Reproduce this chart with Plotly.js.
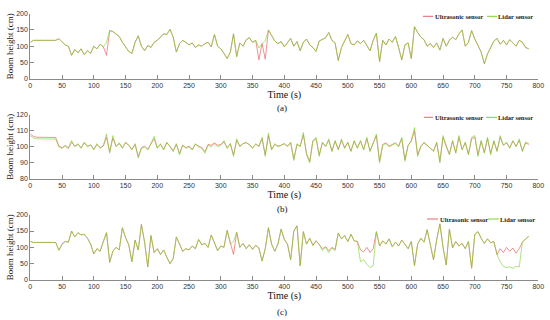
<!DOCTYPE html>
<html><head><meta charset="utf-8">
<script src="https://cdn.plot.ly/plotly-3.0.1.min.js"></script>
<style>html,body{margin:0;padding:0;background:#fff}#chart{width:550px;height:320px}</style>
</head><body><div id="chart"></div>
<script>
const timeS = [
0,5,10,15,20,25,30,35,40,45,50,55,60,65,70,75,80,85,90,95,
100,105,110,115,120,125,130,135,140,145,150,155,160,165,170,175,180,185,190,195,
200,205,210,215,220,225,230,235,240,245,250,255,260,265,270,275,280,285,290,295,
300,305,310,315,320,325,330,335,340,345,350,355,360,365,370,375,380,385,390,395,
400,405,410,415,420,425,430,435,440,445,450,455,460,465,470,475,480,485,490,495,
500,505,510,515,520,525,530,535,540,545,550,555,560,565,570,575,580,585,590,595,
600,605,610,615,620,625,630,635,640,645,650,655,660,665,670,675,680,685,690,695,
700,705,710,715,720,725,730,735,740,745,750,755,760,765,770,775,780,785];

const seriesNames = ['Ultrasonic sensor', 'Lidar sensor'];
const panelLabels = ['(a)', '(b)', '(c)'];
const xTitle = 'Time (s)';
const yTitle = 'Boom height (cm)';
const xTickVals = [0,50,100,150,200,250,300,350,400,450,500,550,600,650,700,750,800];
const yTickValsA = [0,50,100,150,200];
const yTickValsB = [80,90,100,110,120];
const yTickValsC = [0,50,100,150,200];

// Panel (a)
const ultraA = [
112,118,118,118,118,118,118,118,118,123,112,104,100,72,90,80,92,74,86,78,
100,92,106,98,72,148,145,138,130,112,96,84,78,112,132,100,86,102,96,112,
118,128,138,136,152,128,82,108,118,112,104,110,96,104,100,108,112,98,136,100,
92,78,62,82,138,68,110,100,120,126,112,118,58,108,60,150,132,116,108,114,
98,112,124,100,114,86,112,122,104,96,84,116,122,126,142,118,110,56,96,118,
136,108,104,116,108,118,104,86,118,140,52,118,104,122,112,130,96,58,104,110,
62,160,142,128,120,100,108,96,110,88,124,100,118,128,120,138,150,100,112,148,
122,104,82,46,76,96,116,124,106,118,104,120,110,100,118,112,96,92];
const lidarA = [
112,118,118,118,118,118,118,118,118,123,112,104,100,72,90,80,92,74,86,78,
100,92,106,98,112,148,145,138,130,112,96,84,78,112,132,100,86,102,96,112,
118,128,138,136,152,128,82,108,118,112,104,110,96,104,100,108,112,98,136,100,
92,78,62,82,138,68,110,100,120,126,112,118,94,108,116,150,132,116,108,114,
98,112,124,100,114,86,112,122,104,96,84,116,122,126,142,118,110,56,96,118,
136,108,104,116,108,118,104,86,118,140,52,118,104,122,112,130,96,58,104,110,
62,160,142,128,120,100,108,96,110,88,124,100,118,128,120,138,150,100,112,148,
122,104,82,46,76,96,116,124,106,118,104,120,110,100,118,112,96,92];

// Panel (b)
const ultraB = [
108,106.5,106,106,106,106,106,106,105.8,100.5,99.5,100.5,99,103,100.5,101.5,99.5,102.5,100.5,101,
98.5,101.5,99.5,100.5,106,97,105.5,100.5,102,99.5,102.5,101,98.5,101.5,94,99.5,100.5,98.5,101.5,105,
99.5,101.5,98.5,102.5,100.5,97.5,101.5,96,101,99.5,100.5,98.5,101.5,100.5,99.5,97,101.5,101,102.5,101,
101.5,103,99.5,102,95,104,100.5,102,102.5,101.5,99.5,101.5,100.5,105,95,107,98.5,101.5,100.5,101,
102,100.5,102.5,92.5,101.5,100.5,107.5,96,91,103.5,105,95,102.5,100.5,104,97.5,103.5,98.5,104,99.5,
102.5,97.5,103.5,99.5,103.5,98.5,105,97.5,102.5,107,91,101.5,102.5,100.5,101.5,102.5,100.5,105,92,101,
103.5,110,95,100.5,102.5,101,99.5,97.5,102.5,91,106,100.5,95.5,103.5,96.5,106,98.5,102.5,95.5,105,
106,95,103.5,96.5,105,96,103.5,97.5,106,101,102.5,99.5,103.5,100.5,104,97.5,102.5,101.5];
const lidarB = [
107,105.5,105,105,105,105,105,105,104.8,100,99,101,99.5,104,100,102,99,103,100,101.5,
98,102,99,101,108,96,107,100,102.5,99,103,101,98,102,93,99,100,98,102,106.5,
99,102,98,103,100,97,102,95,101,99,100,98,102,100,99,96,101,100,102,100,
101,104,99,102,94,105,100,102,103,101,99,102,100,106,94,108.5,98,102,100,101,
102,100,103,91.5,102,100,109,95,90,104,106,94,103,100,105,97,104,98,105,99,
103,97,104,99,104,98,106,97,103,108,90,101,102,100,101,102,100,106,91,101,
104,112,94,100,103,101,99,97,103,90,107,100,95,104,96,107,98,103,95,106,
107,94,104,96,106,95,104,97,107,101,103,99,104,100,105,97,103,102];

// Panel (c)
const ultraC = [
118,115,115,115,115,115,115,115,115,91,110,118,116,150,132,145,138,140,128,110,
80,96,88,118,145,54,88,100,92,160,130,108,56,122,92,170,116,40,136,84,
96,78,92,70,50,66,132,110,88,96,92,104,96,124,108,112,100,138,112,90,
104,100,152,110,78,146,100,112,96,108,94,106,98,58,96,160,110,88,110,156,
124,110,62,150,166,44,148,110,128,106,120,108,96,102,90,100,94,144,126,136,
118,140,120,118,92,86,100,84,96,148,104,120,110,126,102,116,104,122,110,96,
118,44,110,128,116,154,108,62,124,172,100,46,156,98,118,104,112,96,118,36,
140,148,128,112,126,114,118,78,96,84,100,88,98,82,96,116,126,134];
const lidarC = [
118,115,115,115,115,115,115,115,115,91,110,118,116,150,132,145,138,140,128,110,
80,96,88,118,145,54,88,100,92,160,130,108,56,122,92,170,116,40,136,84,
96,78,92,70,50,66,132,110,88,96,92,104,96,124,108,112,100,138,112,90,
104,100,152,110,118,146,100,112,96,108,94,106,98,58,96,160,110,88,110,156,
124,110,62,150,166,44,148,110,128,106,120,110,90,100,84,98,90,144,126,136,
118,140,120,118,56,62,48,38,44,148,104,120,110,126,102,116,104,122,110,96,
118,44,110,128,116,154,108,62,124,172,100,46,156,98,118,104,112,96,118,36,
140,148,128,112,126,114,118,78,56,42,38,40,36,42,40,116,126,134];

// ---------- styling / geometry ----------
const W = 550, H = 320;
const px = x => x / W;
const py = y => 1 - y / H;
const serif = 'Liberation Serif, Times New Roman, serif';
const sans = 'Liberation Sans, Arial, sans-serif';
const ultraColor = 'rgb(232,100,100)';
const lidarColor = 'rgb(120,212,45)';
const axisColor = '#8a8a8a';

const panels = [
  {u: ultraA, l: lidarA, yr: [0,200], yt: yTickValsA, top: 13.7, bot: 78.7, leg: {y: 16.3, u0: 423, u1: 433, ut: 434, l0: 487, l1: 497, lt: 497}, lab: 108},
  {u: ultraB, l: lidarB, yr: [80,120], yt: yTickValsB, top: 114.7, bot: 179, leg: {y: 117.3, u0: 424, u1: 433, ut: 434, l0: 486, l1: 497, lt: 497}, lab: 209},
  {u: ultraC, l: lidarC, yr: [0,200], yt: yTickValsC, top: 214.7, bot: 280, leg: {y: 219, u0: 427, u1: 438, ut: 439, l0: 488, l1: 499, lt: 499}, lab: 312}
];

const data = [];
const layout = {
  width: W, height: H, autosize: false,
  margin: {l: 0, r: 0, t: 0, b: 0, pad: 0},
  paper_bgcolor: '#fff', plot_bgcolor: '#fff',
  showlegend: false,
  annotations: [], shapes: []
};

panels.forEach((p, i) => {
  const sfx = i === 0 ? '' : String(i + 1);
  const xa = 'x' + sfx, ya = 'y' + sfx;
  data.push({x: timeS, y: p.u, xaxis: xa, yaxis: ya, type: 'scatter', mode: 'lines',
             name: seriesNames[0], line: {color: ultraColor, width: 0.7}, hoverinfo: 'skip'});
  data.push({x: timeS, y: p.l, xaxis: xa, yaxis: ya, type: 'scatter', mode: 'lines',
             name: seriesNames[1], opacity: 0.88, line: {color: lidarColor, width: 0.7}, hoverinfo: 'skip'});
  layout['xaxis' + sfx] = {
    domain: [px(30.3), px(538.3)], anchor: ya, range: [0, 800],
    tickmode: 'array', tickvals: xTickVals,
    showline: true, linecolor: axisColor, linewidth: 1, mirror: false,
    ticks: 'inside', ticklen: 4, tickwidth: 1, tickcolor: axisColor,
    showgrid: false, zeroline: false,
    tickfont: {family: sans, size: 7, color: '#333'},
    title: {text: xTitle, font: {family: serif, size: 10, color: '#111'}, standoff: 2}
  };
  layout['yaxis' + sfx] = {
    domain: [py(p.bot), py(p.top)], anchor: xa, range: p.yr,
    tickmode: 'array', tickvals: p.yt,
    showline: true, linecolor: axisColor, linewidth: 1, mirror: false,
    ticks: 'inside', ticklen: 4, tickwidth: 1, tickcolor: axisColor,
    showgrid: false, zeroline: false,
    tickfont: {family: sans, size: 7, color: '#333'},
    title: {text: yTitle, font: {family: serif, size: 9, color: '#111'}, standoff: 1}
  };
  layout.annotations.push({xref: 'paper', yref: 'paper', x: px(282), y: py(p.lab),
    xanchor: 'center', yanchor: 'middle', showarrow: false, text: panelLabels[i],
    font: {family: serif, size: 9, color: '#111'}});
  const g = p.leg;
  layout.shapes.push({type: 'line', xref: 'paper', yref: 'paper', x0: px(g.u0), x1: px(g.u1), y0: py(g.y), y1: py(g.y), line: {color: ultraColor, width: 1}});
  layout.shapes.push({type: 'line', xref: 'paper', yref: 'paper', x0: px(g.l0), x1: px(g.l1), y0: py(g.y), y1: py(g.y), line: {color: lidarColor, width: 1}});
  layout.annotations.push({xref: 'paper', yref: 'paper', x: px(g.ut), y: py(g.y), xanchor: 'left', yanchor: 'middle',
    showarrow: false, text: seriesNames[0], borderpad: 0, font: {family: serif, size: 6.5, color: '#222', weight: 'bold'}});
  layout.annotations.push({xref: 'paper', yref: 'paper', x: px(g.lt), y: py(g.y), xanchor: 'left', yanchor: 'middle',
    showarrow: false, text: seriesNames[1], borderpad: 0, font: {family: serif, size: 6.5, color: '#222', weight: 'bold'}});
});

Plotly.newPlot('chart', data, layout, {staticPlot: true, displayModeBar: false});
</script>
</body></html>
